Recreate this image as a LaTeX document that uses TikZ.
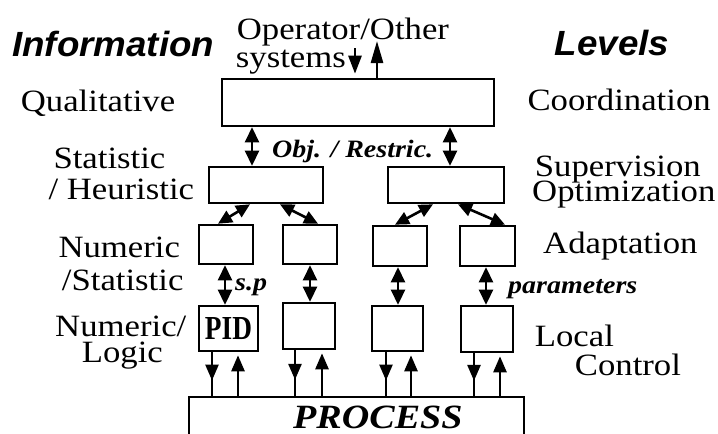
\documentclass[tikz,border=0pt]{standalone}
\usepackage{fontspec}
\setmainfont{Liberation Serif}[FakeStretch=1.12]
\newfontfamily\headfont{Liberation Sans}[FakeStretch=1.05]
\usetikzlibrary{arrows.meta,decorations.markings}

\begin{document}
\begin{tikzpicture}[x=1pt,y=-1pt,
  box/.style={draw, line width=2.6pt, inner sep=0pt, fill=white},
  lbl/.style={inner sep=0pt, anchor=base west, font=\fontsize{31}{31}\selectfont},
  head/.style={inner sep=0pt, anchor=base west, font=\headfont\bfseries\itshape\fontsize{35}{35}\selectfont},
  tag/.style={inner sep=0pt, anchor=base west, font=\bfseries\itshape\fontsize{25}{25}\selectfont},
  tipA/.tip={Triangle[length=15pt,width=14pt]},
  tipB/.tip={Triangle[length=14pt,width=13pt]},
  dbl/.style={line width=2.6pt, tipA-tipA},
  dbls/.style={line width=2.6pt, tipB-tipB},
  upar/.style={line width=2.6pt, -{Triangle[length=16pt,width=13pt]}, shorten >=3pt},
  downmid/.style={line width=2.6pt, postaction={decorate},
    decoration={markings, mark=at position #1 with {\arrow{Triangle[length=16pt,width=13pt]}}}},
]
\clip (0,0) rectangle (718,434);
\fill[white] (0,0) rectangle (718,434);

% column headings
\node[head] (hinfo) at (12,56.7) {Information};
\node[head] (hlev) at (554.7,55.7) {Levels};

% operator input
\node[lbl] (op1) at (236.7,39) {Operator/Other};
\node[lbl] (op2) at (235.7,67) {systems};

% information types (left)
\node[lbl] (i1) at (20.7,111) {Qualitative};
\node[lbl] (i2a) at (53.3,168) {Statistic};
\node[lbl] (i2b) at (48.3,199) {/ Heuristic};
\node[lbl] (i3a) at (58.3,257.3) {Numeric};
\node[lbl] (i3b) at (61.7,290) {/Statistic};
\node[lbl] (i4a) at (55,336.7) {Numeric/};
\node[lbl] (i4b) at (81.7,362.7) {Logic};

% levels (right)
\node[lbl] (l1) at (527.3,110) {Coordination};
\node[lbl] (l2a) at (534.7,176.7) {Supervision};
\node[lbl] (l2b) at (532,201) {Optimization};
\node[lbl] (l3) at (543,253.3) {Adaptation};
\node[lbl] (l4a) at (534.7,346.7) {Local};
\node[lbl] (l4b) at (574.7,375) {Control};

% hierarchy boxes
\node[box, minimum width=272pt, minimum height=47pt] (coord) at (358,102.5) {};
\node[box, minimum width=114pt, minimum height=36pt] (supL) at (266,185) {};
\node[box, minimum width=116pt, minimum height=36pt] (supR) at (446,185) {};
\node[box, minimum width=54pt, minimum height=39pt] (ad1) at (226,244.5) {};
\node[box, minimum width=54pt, minimum height=39pt] (ad2) at (310,244.5) {};
\node[box, minimum width=54pt, minimum height=40pt] (ad3) at (400,246) {};
\node[box, minimum width=55pt, minimum height=40pt] (ad4) at (487.5,246) {};
\node[box, minimum width=59pt, minimum height=45pt] (lc1) at (228.5,328.5) {};
\node[box, minimum width=52pt, minimum height=46pt] (lc2) at (309,326) {};
\node[box, minimum width=51pt, minimum height=45pt] (lc3) at (397.5,328.5) {};
\node[box, minimum width=52pt, minimum height=46pt] (lc4) at (487,329) {};
\node[box, minimum width=335pt, minimum height=46pt] (proc) at (356.5,420) {};

\node[inner sep=0pt] (pid) at (lc1.center) {\resizebox{47pt}{22pt}{\bfseries PID}};
\node[inner sep=0pt, anchor=base west, font=\bfseries\itshape\fontsize{34}{34}\selectfont] (ptext) at (293,428) {PROCESS};

% connector labels
\node[tag] (objr) at (272,157) {Obj. / Restric.};
\node[tag] (sp) at (235,290) {s.p};
\node[tag] (par) at (508,293) {parameters};

% operator arrows
\coordinate (opin) at (355,48);
\draw[line width=2.6pt, -{Triangle[length=18pt,width=13pt]}, shorten >=4pt] (opin) -- (opin |- coord.north);
\coordinate (opout) at (377,41);
\draw[line width=2.6pt, -{Triangle[length=22pt,width=12pt]}] ([xshift=19pt]coord.north) -- (opout);

% coordination <-> supervision
\draw[dbl] ([xshift=-14pt]supL.north |- coord.south) -- ([xshift=-14pt]supL.north);
\draw[dbl] ([xshift=4pt]supR.north |- coord.south) -- ([xshift=4pt]supR.north);

% supervision <-> adaptation
\draw[dbls] ([xshift=-16pt]supL.south) -- ([xshift=-8pt]ad1.north);
\draw[dbls] ([xshift=14pt]supL.south) -- ([xshift=8pt]ad2.north);
\draw[dbls] ([xshift=-13pt]supR.south) -- ([xshift=-5pt]ad3.north);
\draw[dbls] ([xshift=12pt]supR.south) -- ([xshift=17.5pt]ad4.north);

% adaptation <-> local control
\draw[dbl] ([xshift=-1pt]ad1.south) -- ([xshift=-1pt]ad1.south |- lc1.north);
\draw[dbl] (ad2.south) -- (ad2.south |- lc2.north);
\draw[dbl] ([xshift=-2pt]ad3.south) -- ([xshift=-2pt]ad3.south |- lc3.north);
\draw[dbl] ([xshift=-1.5pt]ad4.south) -- ([xshift=-1.5pt]ad4.south |- lc4.north);

% local control <-> process
\draw[downmid=0.65] ([xshift=-16.5pt]lc1.south) -- ([xshift=-16.5pt]lc1.south |- proc.north);
\draw[upar] ([xshift=9.5pt]lc1.south |- proc.north) -- ([xshift=9.5pt]lc1.south);
\draw[downmid=0.65] ([xshift=-14pt]lc2.south) -- ([xshift=-14pt]lc2.south |- proc.north);
\draw[upar] ([xshift=13pt]lc2.south |- proc.north) -- ([xshift=13pt]lc2.south);
\draw[downmid=0.65] ([xshift=-11.5pt]lc3.south) -- ([xshift=-11.5pt]lc3.south |- proc.north);
\draw[upar] ([xshift=13.5pt]lc3.south |- proc.north) -- ([xshift=13.5pt]lc3.south);
\draw[downmid=0.65] ([xshift=-13pt]lc4.south) -- ([xshift=-13pt]lc4.south |- proc.north);
\draw[upar] ([xshift=13pt]lc4.south |- proc.north) -- ([xshift=13pt]lc4.south);
\end{tikzpicture}
\end{document}
